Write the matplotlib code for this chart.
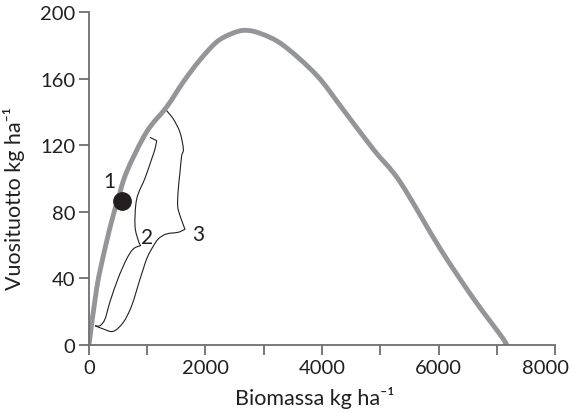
import matplotlib
matplotlib.use("Agg")
import matplotlib.pyplot as plt
from matplotlib.ticker import MultipleLocator
from matplotlib.path import Path
from matplotlib.patches import PathPatch
from matplotlib.transforms import ScaledTranslation

plt.rcParams['font.family'] = ['Lato', 'DejaVu Sans']

# Yield curve (gray)
yield_x = [0, 132, 275, 417, 503, 647, 990, 1334, 1619, 1900, 2192, 2450, 2678, 2950, 3336,
           3908, 4350, 4881, 5339, 6026, 6598, 7112, 7150]
yield_y = [0, 34, 58, 78, 88, 104, 128, 143, 158, 171, 182, 187, 189, 187, 180,
           162, 142, 117.5, 98, 58, 28, 3.6, 0]

# Trajectory 2
traj2_x = [1047, 1162, 1133, 1076, 960, 819, 790, 847, 887, 761, 647, 500, 361, 275, 189, 103]
traj2_y = [124.7, 122.7, 117.7, 111.7, 100, 87.7, 71.7, 62.7, 59.7, 57.7, 51.7, 40, 26, 15.6, 11.6, 11.6]

# Trajectory 3
traj3_x = [1334, 1448, 1562, 1620, 1591, 1562, 1533, 1522, 1562, 1648, 1533, 1334, 1190, 1076, 990,
           932, 876, 733, 589, 417, 246, 103]
traj3_y = [140.7, 135.7, 127.7, 117.7, 113.7, 103.7, 93.7, 83.7, 77.7, 69.5, 67.7, 66.7, 63.7, 57.7, 51.7,
           45.6, 39.6, 23.6, 13.6, 8.2, 9.6, 11.6]

# Starting point 1
point_x = [561]
point_y = [86.7]

labels = ['1', '2', '3']
label_x = [343, 1000, 1877]
label_y = [98.5, 64.7, 66.7]

xticks = [0, 2000, 4000, 6000, 8000]
yticks = [0, 40, 80, 120, 160, 200]


def smooth_path(xs, ys, corners=()):
    """Catmull-Rom curve through the points, with sharp corners at given indices."""
    pts = list(zip(xs, ys))
    n = len(pts)
    cuts = [0] + sorted(corners) + [n - 1]
    verts = [pts[0]]
    codes = [Path.MOVETO]
    for a, b in zip(cuts[:-1], cuts[1:]):
        seg = pts[a:b + 1]
        m = len(seg)
        if m == 2:
            verts.append(seg[1]); codes.append(Path.LINETO)
            continue
        for i in range(m - 1):
            p0 = seg[i - 1] if i > 0 else seg[i]
            p1 = seg[i]
            p2 = seg[i + 1]
            p3 = seg[i + 2] if i + 2 < m else seg[i + 1]
            c1 = (p1[0] + (p2[0] - p0[0]) / 6.0, p1[1] + (p2[1] - p0[1]) / 6.0)
            c2 = (p2[0] - (p3[0] - p1[0]) / 6.0, p2[1] - (p3[1] - p1[1]) / 6.0)
            verts += [c1, c2, p2]
            codes += [Path.CURVE4] * 3
    return Path(verts, codes)


fig = plt.figure(figsize=(5.73, 4.14), dpi=100)
ax = fig.add_axes([0.1553, 0.1643, 0.8133, 0.8043])

ax.add_patch(PathPatch(smooth_path(yield_x, yield_y), fill=False, edgecolor='#939598',
                       lw=3.5, capstyle='round', zorder=2))
ax.add_patch(PathPatch(smooth_path(traj2_x, traj2_y, corners=(1, 8)), fill=False,
                       edgecolor='#231f20', lw=0.8, zorder=3))
ax.add_patch(PathPatch(smooth_path(traj3_x, traj3_y, corners=(9,)), fill=False,
                       edgecolor='#231f20', lw=0.8, zorder=3))
ax.plot(point_x, point_y, 'o', color='#231f20', ms=12.5, zorder=4)

for t, x, y in zip(labels, label_x, label_y):
    ax.text(x, y, t, fontsize=15, color='#231f20', ha='center', va='center')

ax.set_xlim(0, 8000)
ax.set_ylim(0, 200)
ax.set_xticks(xticks)
ax.set_yticks(yticks)
ax.xaxis.set_minor_locator(MultipleLocator(1000))

for s in ['top', 'right']:
    ax.spines[s].set_visible(False)
for s in ['left', 'bottom']:
    ax.spines[s].set_color('#6d6e71')
    ax.spines[s].set_linewidth(1.3)

ax.tick_params(axis='both', which='both', direction='out', length=7, width=1.3,
               color='#6d6e71', labelsize=14.5, labelcolor='#231f20')
ax.tick_params(axis='y', pad=3)
ax.tick_params(axis='x', pad=3)

ax.set_xlabel('Biomassa kg ha⁻¹', fontsize=15.5, color='#231f20')
ax.set_ylabel('Vuosituotto kg ha⁻¹', fontsize=15.5, color='#231f20')
ax.xaxis.set_label_coords(0.484, -0.122)
ax.yaxis.set_label_coords(-0.137, 0.443)

fig.canvas.draw()
last = ax.get_xticklabels()[-1]
last.set_transform(last.get_transform() + ScaledTranslation(-10 / 100, 0, fig.dpi_scale_trans))

fig.savefig('out.png', dpi=100)
